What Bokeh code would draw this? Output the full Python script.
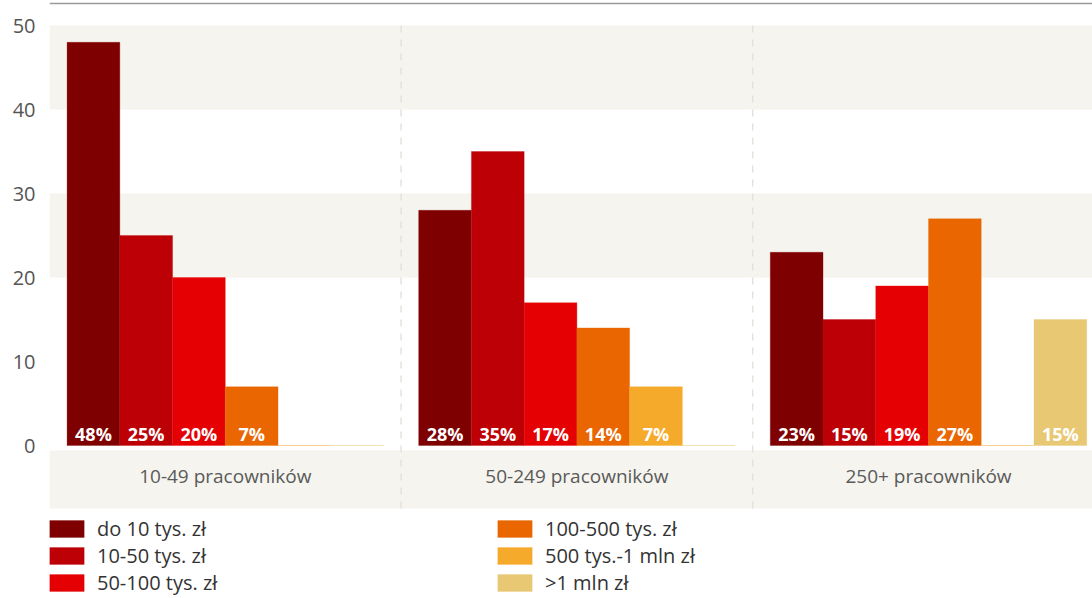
from bokeh.plotting import figure
from bokeh.models import (ColumnDataSource, Range1d, FixedTicker, BoxAnnotation,
                          Span, Legend, LegendItem)
from bokeh.core.properties import value
from bokeh.embed import file_html
from bokeh.resources import INLINE

# ---------------- data ----------------
groups = ["10-49 pracowników", "50-249 pracowników", "250+ pracowników"]
series = ["do 10 tys. zł", "10-50 tys. zł", "50-100 tys. zł",
          "100-500 tys. zł", "500 tys.-1 mln zł", ">1 mln zł"]
colors = ["#7f0000", "#bc0006", "#e40003", "#e96600", "#f5aa2b", "#e8c873"]

values_do_10 = [48, 28, 23]
values_10_50 = [25, 35, 15]
values_50_100 = [20, 17, 19]
values_100_500 = [7, 14, 27]
values_500_1mln = [0, 7, 0]
values_over_1mln = [0, 0, 15]
all_values = [values_do_10, values_10_50, values_50_100,
              values_100_500, values_500_1mln, values_over_1mln]

y_ticks = [0, 10, 20, 30, 40, 50]

# ---------------- layout constants ----------------
FONT = "Open Sans"
PX_PER_UNIT = 8.4
W, H = 1092, 598
LEFT = 49
ZERO_Y = 445  # pixel row of value 0 within the figure
CAT_W = 351.6
BAR_W = 0.15
GROUP_PAD = 0.05

x_end = (W - LEFT) / CAT_W
y_end = ZERO_Y / PX_PER_UNIT
y_start = -(H - ZERO_Y) / PX_PER_UNIT

p = figure(width=W, height=H, output_backend="svg", toolbar_location=None,
           x_range=Range1d(0, x_end), y_range=Range1d(y_start, y_end),
           x_axis_location=None, y_axis_location="left",
           min_border_left=LEFT, min_border_right=0, min_border_top=0,
           min_border_bottom=0)
p.outline_line_color = None
p.grid.visible = False
p.background_fill_color = "white"
p.border_fill_color = "white"

# bands
band_color = "#f5f4ee"
for lo, hi in [(40, 50), (20, 30)]:
    p.add_layout(BoxAnnotation(bottom=lo, top=hi, fill_color=band_color,
                               fill_alpha=1, line_color=None, level="underlay"))
cat_band_top = -5 / PX_PER_UNIT
cat_band_bottom = -63 / PX_PER_UNIT
p.add_layout(BoxAnnotation(bottom=cat_band_bottom, top=cat_band_top,
                           fill_color=band_color, fill_alpha=1,
                           line_color=None, level="underlay"))

# top rule
p.add_layout(Span(location=y_end - 3 / PX_PER_UNIT, dimension="width",
                  line_color="#9a9a9a", line_width=1.5))

# group separators
seps = list(range(1, len(groups)))
p.segment(x0=seps, x1=seps, y0=[cat_band_bottom] * len(seps), y1=[50] * len(seps),
          line_color="#e4e2db", line_width=1.5, line_dash="7 7")

# bars
renderers = []
for i, (name, col, vals) in enumerate(zip(series, colors, all_values)):
    xs = [g + GROUP_PAD + BAR_W * (i + 0.5) for g in range(len(groups))]
    src = ColumnDataSource(dict(
        x=xs, top=vals, zero=[0] * len(vals),
        label=[f"{v}%" if v > 0 else "" for v in vals]))
    r = p.vbar(x="x", top="top", width=BAR_W, source=src, fill_color=col,
               line_color=col, line_alpha=0.3, line_width=1)
    renderers.append(r)
    p.text(x="x", y="zero", text="label", source=src, text_color="white",
           text_font=value(FONT), text_font_style="bold", text_font_size="18px",
           text_align="center", text_baseline="middle", y_offset=-12)

# category labels
p.text(x=[g + 0.5 for g in range(len(groups))],
       y=[-30 / PX_PER_UNIT] * len(groups), text=groups,
       text_color="#5a5a5a", text_font=value(FONT), text_font_size="19px",
       text_align="center", text_baseline="middle")

# y axis
ax = p.yaxis[0]
ax.ticker = FixedTicker(ticks=y_ticks)
ax.axis_line_color = None
ax.major_tick_line_color = None
ax.minor_tick_line_color = None
ax.major_tick_out = 0
ax.major_label_standoff = 14
ax.major_label_text_font = FONT
ax.major_label_text_font_size = "20px"
ax.major_label_text_color = "#555555"

# legends
def make_legend(idx, loc):
    return Legend(items=[LegendItem(label=series[k], renderers=[renderers[k]]) for k in idx],
                  location=loc, orientation="vertical", glyph_width=43,
                  glyph_height=21, label_standoff=9, label_height=27, spacing=0,
                  padding=0, margin=0, border_line_color=None,
                  background_fill_alpha=0, label_text_font=FONT,
                  label_text_font_size="20px", label_text_color="#333333")

p.add_layout(make_legend([0, 1, 2], (-4, 2)))
p.add_layout(make_legend([3, 4, 5], (444, 2)))

open("out.html", "w").write(file_html(p, INLINE))
